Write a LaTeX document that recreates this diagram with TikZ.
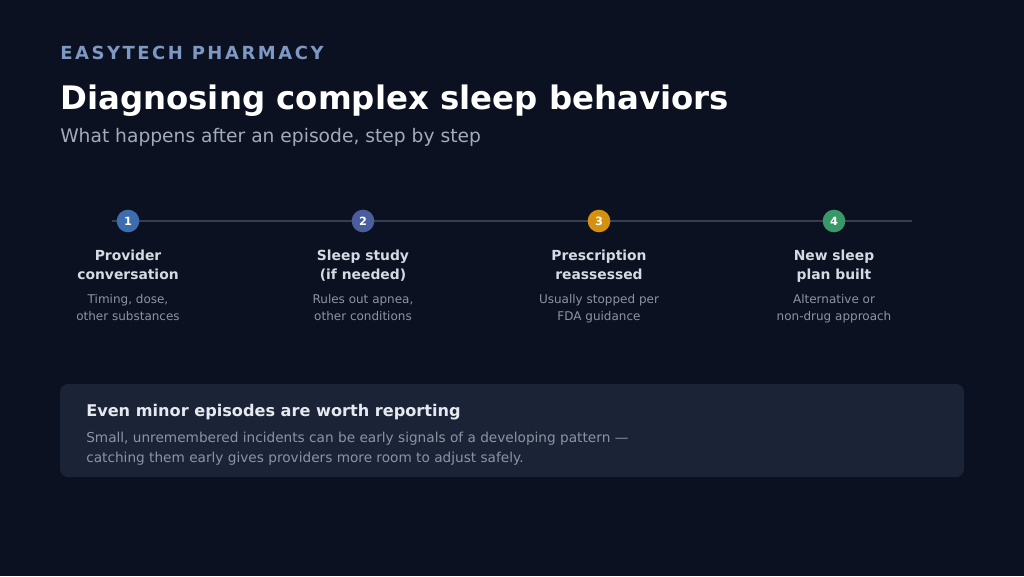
\documentclass[tikz,border=0pt]{standalone}
\usepackage{fontspec}
\setmainfont{DejaVu Sans}
\usepackage{tikz}
\usetikzlibrary{positioning}
\definecolor{bgdark}{HTML}{0B1120}
\definecolor{brandblue}{HTML}{7D98C2}
\definecolor{subgray}{HTML}{A3AABA}
\definecolor{railgray}{HTML}{363F52}
\definecolor{steptxt}{HTML}{D5DAE3}
\definecolor{descgray}{HTML}{8C94A4}
\definecolor{panelfill}{HTML}{1B2336}
\definecolor{panelhead}{HTML}{E6EAF0}
\definecolor{dotone}{HTML}{3D6CAF}
\definecolor{dottwo}{HTML}{4A5E9E}
\definecolor{dotthree}{HTML}{D4900E}
\definecolor{dotfour}{HTML}{399868}
\tikzstyle{lefttext}=[anchor=west,inner sep=0pt]
\tikzstyle{dot}=[circle,minimum size=17pt,inner sep=0pt,text=white,
  font=\fontsize{8.5}{10}\selectfont\bfseries]
\tikzstyle{steptitle}=[align=center,anchor=north,inner sep=0pt,text=steptxt,
  font=\fontsize{10.4}{14.25}\selectfont\bfseries]
\tikzstyle{stepdesc}=[align=center,anchor=north,inner sep=0pt,text=descgray,
  font=\fontsize{9}{12.75}\selectfont]
\tikzstyle{rail}=[draw=railgray,line width=2.2pt]

\begin{document}
\begin{tikzpicture}[x=0.75pt,y=-0.75pt]
\fill[bgdark] (0,0) rectangle (1024,576);
\useasboundingbox (0,0) rectangle (1024,576);
% header
\node[lefttext,text=brandblue] (brand) at (60,53)
  {\fontsize{13.5}{16}\selectfont\bfseries\addfontfeature{LetterSpace=14}EASYTECH PHARMACY};
\node[lefttext,text=white] (title) at (60,101)
  {\fontsize{24.3}{28}\selectfont\bfseries Diagnosing complex sleep behaviors};
\node[lefttext,text=subgray] (subtitle) at (60,137)
  {\fontsize{14}{16}\selectfont What happens after an episode, step by step};
% timeline
\coordinate (railL) at (112,221);
\coordinate (railR) at (912,221);
\draw[rail] (railL) -- (railR);
\node[dot,fill=dotone] (s1) at (128,221) {1};
\node[dot,fill=dottwo] (s2) at (363,221) {2};
\node[dot,fill=dotthree] (s3) at (599,221) {3};
\node[dot,fill=dotfour] (s4) at (834,221) {4};
\node[steptitle] (t1) at (128,250) {Provider\\conversation};
\node[steptitle] (t2) at (363,250) {Sleep study\\(if needed)};
\node[steptitle] (t3) at (599,250) {Prescription\\reassessed};
\node[steptitle] (t4) at (834,250) {New sleep\\plan built};
\node[stepdesc] (d1) at (128,294) {Timing, dose,\\other substances};
\node[stepdesc] (d2) at (363,294) {Rules out apnea,\\other conditions};
\node[stepdesc] (d3) at (599,294) {Usually stopped per\\FDA guidance};
\node[stepdesc] (d4) at (834,294) {Alternative or\\non-drug approach};
% note panel
\fill[panelfill,rounded corners=6pt] (60,384) rectangle (964,477);
\node[lefttext,text=panelhead] (notehead) at (86,412)
  {\fontsize{12.1}{15}\selectfont\bfseries Even minor episodes are worth reporting};
\node[anchor=north west,inner sep=0pt,text=descgray,align=left,
  font=\fontsize{10.25}{15}\selectfont] (notebody) at (86,432)
  {Small, unremembered incidents can be early signals of a developing pattern ---\\
   catching them early gives providers more room to adjust safely.};
\end{tikzpicture}
\end{document}
